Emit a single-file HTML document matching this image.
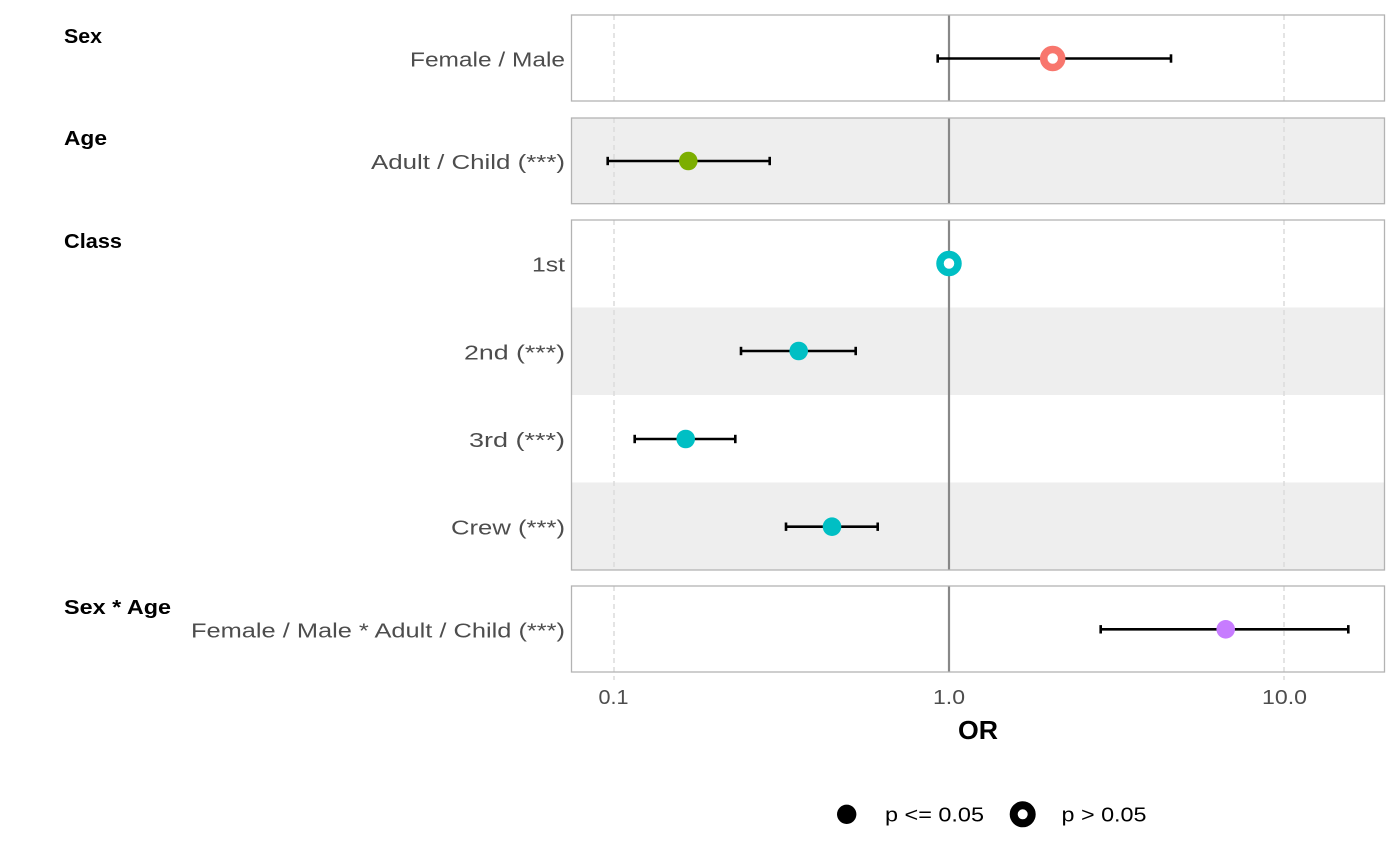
<!DOCTYPE html>
<html><head><meta charset="utf-8"><style>
html,body{margin:0;padding:0;background:#fff;}
svg{display:block;}
text{font-family:"Liberation Sans",sans-serif;}
</style></head><body>
<svg width="1400" height="866" viewBox="0 0 1400 866" xmlns="http://www.w3.org/2000/svg">
<rect x="0" y="0" width="1400" height="866" fill="#fff"/>
<!-- stripes -->
<rect x="571.5" y="118" width="813" height="85.7" fill="#eeeeee"/>
<rect x="571.5" y="307.5" width="813" height="87.5" fill="#eeeeee"/>
<rect x="571.5" y="482.5" width="813" height="87.5" fill="#eeeeee"/>
<!-- gridlines -->
<g stroke="#dcdcdc" stroke-width="1.5" stroke-dasharray="5,4" fill="none">
<line x1="614" y1="15" x2="614" y2="101"/><line x1="1284" y1="15" x2="1284" y2="101"/>
<line x1="614" y1="118" x2="614" y2="203.7"/><line x1="1284" y1="118" x2="1284" y2="203.7"/>
<line x1="614" y1="220" x2="614" y2="570"/><line x1="1284" y1="220" x2="1284" y2="570"/>
<line x1="614" y1="586" x2="614" y2="680"/><line x1="1284" y1="586" x2="1284" y2="680"/>
</g>
<!-- ref line -->
<g stroke="#888" stroke-width="2.2">
<line x1="949" y1="15" x2="949" y2="101"/>
<line x1="949" y1="118" x2="949" y2="203.7"/>
<line x1="949" y1="220" x2="949" y2="570"/>
<line x1="949" y1="586" x2="949" y2="672"/>
</g>
<!-- CIs -->
<g stroke="#000" stroke-width="2.6" fill="none">
<line x1="937.7" y1="58.5" x2="1171" y2="58.5"/><line x1="937.7" y1="54.3" x2="937.7" y2="62.7"/><line x1="1171" y1="54.3" x2="1171" y2="62.7"/>
<line x1="607.7" y1="161" x2="769.7" y2="161"/><line x1="607.7" y1="156.8" x2="607.7" y2="165.2"/><line x1="769.7" y1="156.8" x2="769.7" y2="165.2"/>
<line x1="741" y1="351" x2="855.7" y2="351"/><line x1="741" y1="346.8" x2="741" y2="355.2"/><line x1="855.7" y1="346.8" x2="855.7" y2="355.2"/>
<line x1="634.7" y1="439" x2="735.3" y2="439"/><line x1="634.7" y1="434.8" x2="634.7" y2="443.2"/><line x1="735.3" y1="434.8" x2="735.3" y2="443.2"/>
<line x1="786" y1="526.7" x2="877.7" y2="526.7"/><line x1="786" y1="522.5" x2="786" y2="530.9"/><line x1="877.7" y1="522.5" x2="877.7" y2="530.9"/>
<line x1="1100.7" y1="629.3" x2="1348.3" y2="629.3"/><line x1="1100.7" y1="625.1" x2="1100.7" y2="633.5"/><line x1="1348.3" y1="625.1" x2="1348.3" y2="633.5"/>
</g>
<!-- points -->
<circle cx="1052.7" cy="58.5" r="9" fill="#fff" stroke="#F8766D" stroke-width="7.5"/>
<circle cx="688.3" cy="161" r="9.3" fill="#7CAE00"/>
<circle cx="949" cy="263.5" r="9" fill="#fff" stroke="#00BFC4" stroke-width="7.5"/>
<circle cx="798.7" cy="351" r="9.3" fill="#00BFC4"/>
<circle cx="685.7" cy="439" r="9.3" fill="#00BFC4"/>
<circle cx="832" cy="526.7" r="9.3" fill="#00BFC4"/>
<circle cx="1225.7" cy="629.3" r="9.3" fill="#C77CFF"/>
<!-- panel borders -->
<g stroke="#b3b3b3" stroke-width="1.3" fill="none">
<rect x="571.5" y="15" width="813" height="86"/>
<rect x="571.5" y="118" width="813" height="85.7"/>
<rect x="571.5" y="220" width="813" height="350"/>
<rect x="571.5" y="586" width="813" height="86"/>
</g>
<!-- group labels -->
<g font-size="20" font-weight="bold" fill="#000">
<text x="64" y="43" textLength="38" lengthAdjust="spacingAndGlyphs">Sex</text>
<text x="64" y="145" textLength="43" lengthAdjust="spacingAndGlyphs">Age</text>
<text x="64" y="248" textLength="58" lengthAdjust="spacingAndGlyphs">Class</text>
<text x="64" y="614" textLength="107" lengthAdjust="spacingAndGlyphs">Sex * Age</text>
</g>
<!-- row labels -->
<g font-size="20" fill="#4d4d4d" text-anchor="end">
<text x="565" y="66.5" textLength="155" lengthAdjust="spacingAndGlyphs">Female / Male</text>
<text x="565" y="169" textLength="194" lengthAdjust="spacingAndGlyphs">Adult / Child (***)</text>
<text x="565" y="271.7" textLength="33" lengthAdjust="spacingAndGlyphs">1st</text>
<text x="565" y="359.5" textLength="101" lengthAdjust="spacingAndGlyphs">2nd (***)</text>
<text x="565" y="447" textLength="96" lengthAdjust="spacingAndGlyphs">3rd (***)</text>
<text x="565" y="534.5" textLength="114" lengthAdjust="spacingAndGlyphs">Crew (***)</text>
<text x="565" y="637.3" textLength="374" lengthAdjust="spacingAndGlyphs">Female / Male * Adult / Child (***)</text>
</g>
<!-- ticks -->
<g font-size="20" fill="#4d4d4d" text-anchor="middle">
<text x="613.5" y="704" textLength="30" lengthAdjust="spacingAndGlyphs">0.1</text>
<text x="949" y="704" textLength="32" lengthAdjust="spacingAndGlyphs">1.0</text>
<text x="1284.5" y="704" textLength="45" lengthAdjust="spacingAndGlyphs">10.0</text>
</g>
<text x="978" y="739" font-size="26" font-weight="bold" fill="#000" text-anchor="middle" textLength="40" lengthAdjust="spacingAndGlyphs">OR</text>
<!-- legend -->
<circle cx="846.7" cy="814.3" r="9.7" fill="#000"/>
<text x="885" y="821.7" font-size="20" fill="#000" textLength="99" lengthAdjust="spacingAndGlyphs">p &lt;= 0.05</text>
<circle cx="1022.7" cy="814.3" r="9" fill="#fff" stroke="#000" stroke-width="8"/>
<text x="1061.5" y="821.7" font-size="20" fill="#000" textLength="85" lengthAdjust="spacingAndGlyphs">p &gt; 0.05</text>
</svg>
</body></html>
